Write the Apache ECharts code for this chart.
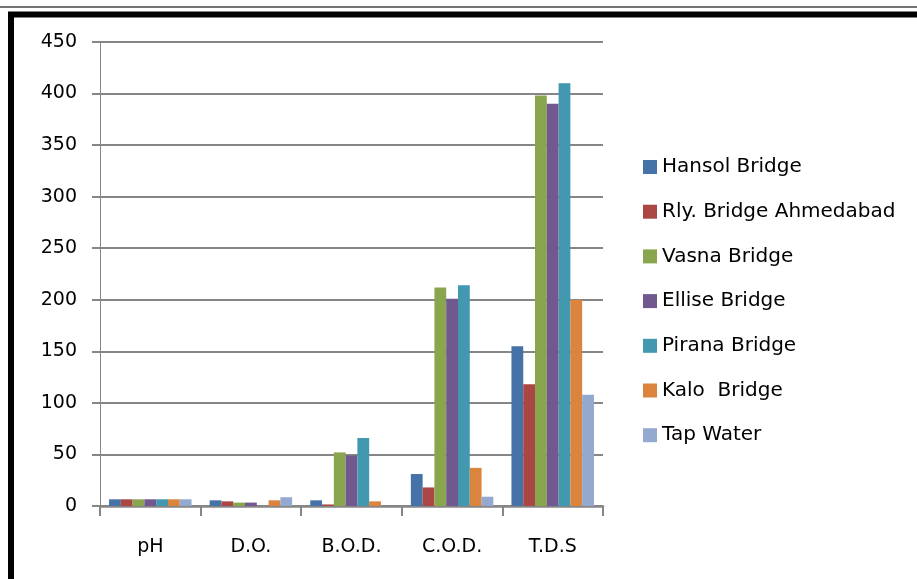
<!DOCTYPE html>
<html>
<head>
<meta charset="utf-8">
<script src="https://cdn.jsdelivr.net/npm/echarts@6/dist/echarts.min.js"></script>
<style>
  html, body { margin: 0; padding: 0; background: #fff; }
  #chart { width: 917px; height: 579px; }
</style>
</head>
<body>
<div id="chart"></div>
<script>
const categories = ['pH', 'D.O.', 'B.O.D.', 'C.O.D.', 'T.D.S'];
const seriesNames = ['Hansol Bridge', 'Rly. Bridge Ahmedabad', 'Vasna Bridge', 'Ellise Bridge', 'Pirana Bridge', 'Kalo  Bridge', 'Tap Water'];
const hansol = [6.5, 5.5, 5.5, 31, 155];
const rly = [6.5, 4.5, 1.5, 18, 118];
const vasna = [6.5, 3.3, 52, 212, 398];
const ellise = [6.5, 3.3, 49, 201, 390];
const pirana = [6.5, 0, 66, 214, 410];
const kalo = [6.5, 5.5, 4.5, 37, 200];
const tap = [6.5, 8.5, 0, 9, 108];
const yTicks = { min: 0, max: 450, interval: 50 };

const values = [hansol, rly, vasna, ellise, pirana, kalo, tap];
const colors = ['#4572A7', '#AA4643', '#89A54E', '#71588F', '#4198AF', '#DB843D', '#93A9CF'];
const grey = '#868686';
const font = 'DejaVu Sans';

const chart = echarts.init(document.getElementById('chart'));

const option = {
  animation: false,
  textStyle: { fontFamily: font },
  grid: { left: 100, right: 314, top: 42, bottom: 73 },
  legend: {
    orient: 'vertical',
    left: 638,
    top: 152,
    icon: 'rect',
    itemWidth: 14,
    itemHeight: 14,
    itemGap: 24.7,
    textStyle: { fontSize: 20, lineHeight: 20, color: '#000', fontFamily: font },
    data: seriesNames
  },
  xAxis: {
    type: 'category',
    data: categories,
    axisLine: { lineStyle: { color: grey, width: 2.5 } },
    axisTick: { show: true, length: 10, lineStyle: { color: grey, width: 2 } },
    axisLabel: { color: '#000', fontSize: 19, margin: 32 }
  },
  yAxis: {
    type: 'value',
    min: yTicks.min,
    max: yTicks.max,
    interval: yTicks.interval,
    axisLine: { show: true, lineStyle: { color: grey, width: 1 } },
    axisTick: { show: true, length: 8, lineStyle: { color: grey, width: 2 } },
    splitLine: { lineStyle: { color: grey, width: 2 } },
    axisLabel: { color: '#000', fontSize: 19, margin: 23 }
  },
  graphic: [
    // page frame from the original document
    { type: 'line', shape: { x1: 0, y1: 7, x2: 917, y2: 7 }, style: { stroke: '#444', lineWidth: 1.5 } },
    { type: 'line', shape: { x1: 8, y1: 14.5, x2: 917, y2: 14.5 }, style: { stroke: '#000', lineWidth: 6 } },
    { type: 'line', shape: { x1: 11, y1: 12, x2: 11, y2: 579 }, style: { stroke: '#000', lineWidth: 6 } }
  ],
  series: seriesNames.map((name, i) => ({
    name: name,
    type: 'bar',
    data: values[i],
    barGap: '0%',
    barCategoryGap: '18%',
    itemStyle: { color: colors[i] }
  }))
};

chart.setOption(option);
</script>
</body>
</html>
